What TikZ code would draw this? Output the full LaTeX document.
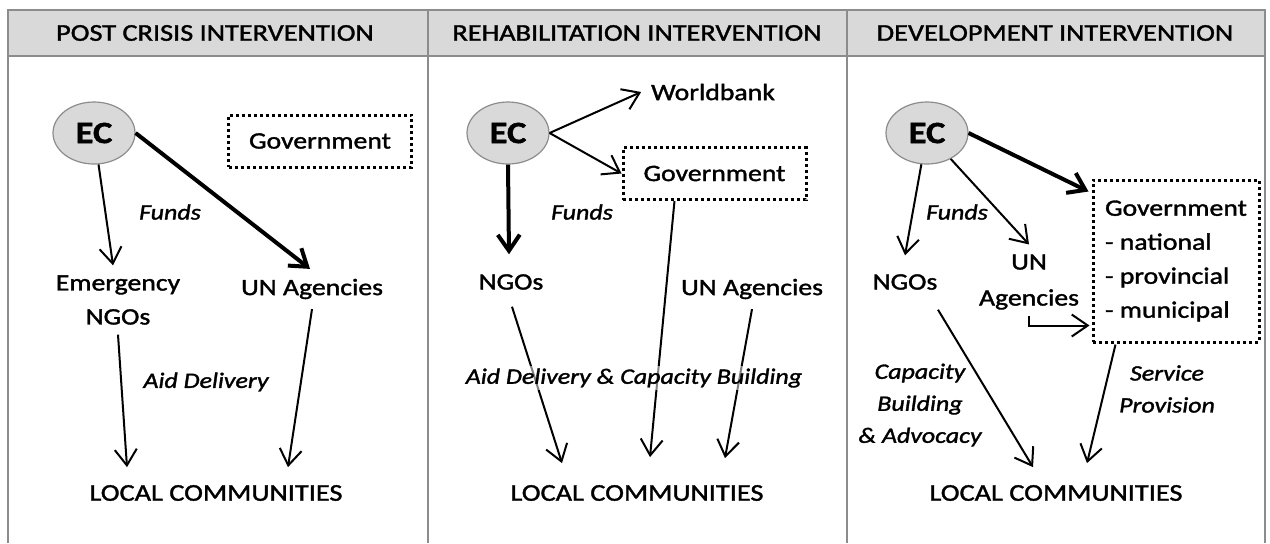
\documentclass[tikz,border=0pt]{standalone}
\usepackage{fontspec}
\setmainfont{Carlito}[FakeStretch=1.18,FakeBold=1.5]
\usetikzlibrary{arrows.meta,shapes.geometric,calc}
\definecolor{hdrgray}{HTML}{D9D9D9}
\definecolor{linegray}{HTML}{8C8C8C}
\tikzset{
    lbl/.style={font=\fontsize{11.75}{17}\selectfont,align=center,inner sep=0pt,outer sep=5pt},
    note/.style={font=\itshape\fontsize{11}{16}\selectfont,align=center,inner sep=1pt},
    lc/.style={font=\fontsize{12}{14}\selectfont,inner sep=0pt,outer sep=9pt},
    hdr/.style={font=\fontsize{12}{14}\selectfont,inner sep=0pt},
    ecnode/.style={ellipse,draw=linegray,fill=hdrgray,line width=0.6pt,minimum width=41pt,minimum height=31pt,inner sep=0pt,font=\bfseries\fontsize{15.5}{18}\selectfont},
    govbox/.style={draw,line width=1.5pt,dash pattern=on 1.5pt off 1.5pt,font=\fontsize{11.75}{17}\selectfont},
    arr/.style={-{Straight Barb[length=8pt,width=11pt]},line width=1pt},
    thickarr/.style={arr,line width=2pt}
}
\begin{document}
\begin{tikzpicture}[x=0.5pt,y=-0.5pt]
    \useasboundingbox (0,0) rectangle (1270,543);
    % table frame and headers
    \fill[hdrgray] (8,10) rectangle (1265,56);
    \draw[linegray,line width=1pt] (8,543) -- (8,10) -- (1265,10) -- (1265,543);
    \draw[linegray,line width=1pt] (8,56) -- (1265,56);
    \draw[linegray,line width=1pt] (428,10) -- (428,543);
    \draw[linegray,line width=1pt] (847,10) -- (847,543);
    \node[hdr] (hdr1) at (215,33) {POST CRISIS INTERVENTION};
    \node[hdr] (hdr2) at (637,33) {REHABILITATION INTERVENTION};
    \node[hdr] (hdr3) at (1055,33) {DEVELOPMENT INTERVENTION};

    % post crisis
    \node[ecnode] (ec1) at (94,133) {EC};
    \node[govbox,minimum width=91.5pt,minimum height=26pt] (gov1) at (320,141) {Government};
    \node[lbl] (eng1) at (118,300) {Emergency\\NGOs};
    \node[lbl] (un1) at (312,289) {UN Agencies};
    \node[lc] (lc1) at (216,493) {LOCAL COMMUNITIES};
    \node[note] (funds1) at (170,212) {Funds};
    \node[note] (aid1) at (206,382) {Aid Delivery};
    \draw[arr] (ec1) -- (eng1);
    \draw[thickarr] (ec1.east) -- ($(un1.north)+(-2,0)$);
    \draw[arr] (eng1.south) -- ($(lc1.north)+(-89,0)$);
    \draw[arr] (un1.south) -- ($(lc1.north)+(72,0)$);

    % rehabilitation
    \node[ecnode] (ec2) at (508,133) {EC};
    \node[lbl] (wb2) at (713,92) {Worldbank};
    \node[govbox,minimum width=91.5pt,minimum height=26pt] (gov2) at (714.5,173.5) {Government};
    \node[lbl] (ngo2) at (511,282) {NGOs};
    \node[lbl] (un2) at (752,289) {UN Agencies};
    \node[lc] (lc2) at (637,493) {LOCAL COMMUNITIES};
    \node[note] (funds2) at (582,212) {Funds};
    \draw[arr] (ec2.east) -- (wb2.west);
    \draw[arr] (ec2.east) -- (gov2.west);
    \draw[thickarr] (ec2.south) -- ($(ngo2.north)+(-2,-10)$);
    \draw[arr] ($(gov2.south)+(-40,0)$) -- ($(lc2.north)+(13,-10)$);
    \draw[arr] ($(ngo2.south)+(1,7)$) -- ($(lc2.north)+(-75,-4)$);
    \draw[arr] (un2.south) -- ($(lc2.north)+(88,-9)$);
    \node[note,fill=white,fill opacity=0.5,text opacity=1] (aid2) at (634,378) {Aid Delivery \& Capacity Building};

    % development
    \node[ecnode] (ec3) at (927,133) {EC};
    \node[govbox,align=left,minimum width=83pt,minimum height=81pt] (gov3) at (1176,261) {Government\\- national\\- provincial\\- municipal};
    \node[lbl] (ngo3) at (905,282) {NGOs};
    \node[lbl,font=\fontsize{11.75}{18}\selectfont] (un3) at (1029,282) {UN\\Agencies};
    \node[lc] (lc3) at (1056,493) {LOCAL COMMUNITIES};
    \node[note] (funds3) at (957,212) {Funds};
    \node[note] (cap3) at (920,405) {Capacity\\Building\\\& Advocacy};
    \node[note] (serv3) at (1167,389) {Service\\Provision};
    \draw[thickarr] (ec3.east) -- ($(gov3.north west)+(-3,13)$);
    \draw[arr] (ec3) -- ($(ngo3.north)+(0,-9)$);
    \draw[arr] (ec3) -- (un3.north);
    \draw[arr] ($(un3.south)+(0,-4)$) |- ($(gov3.south west)+(-2,-18)$);
    \draw[arr] ($(ngo3.south)+(33,10)$) -- ($(lc3.north)+(-23,0)$);
    \draw[arr] ($(gov3.south west)+(24,1)$) -- ($(lc3.north)+(31,-4)$);
\end{tikzpicture}
\end{document}
